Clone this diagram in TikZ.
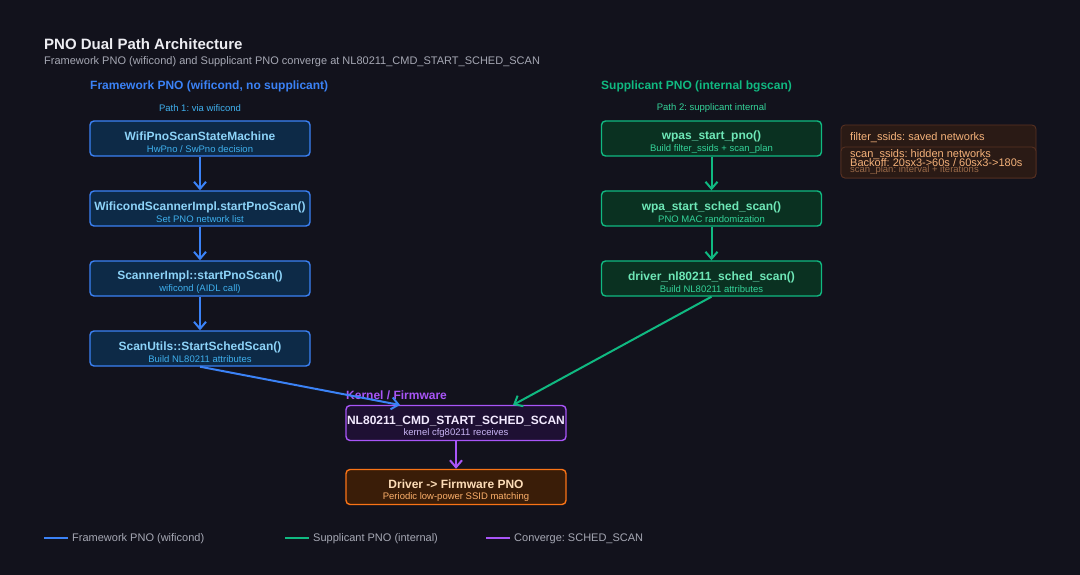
\documentclass[tikz,border=0pt]{standalone}
\usepackage{fontspec}
\setmainfont{Liberation Sans}
\usetikzlibrary{arrows.meta,positioning}
\definecolor{bg}{HTML}{12121C}
\definecolor{bluel}{HTML}{3B82F6}
\definecolor{bluefill}{HTML}{0D2A47}
\definecolor{bluetitle}{HTML}{8DD3F8}
\definecolor{bluesub}{HTML}{3FB0EE}
\definecolor{greenl}{HTML}{10B981}
\definecolor{greenfill}{HTML}{0A3121}
\definecolor{greentitle}{HTML}{6EE7B7}
\definecolor{greensub}{HTML}{34D399}
\definecolor{purl}{HTML}{A855F7}
\definecolor{purfill}{HTML}{1E1033}
\definecolor{purtitle}{HTML}{F3EAFF}
\definecolor{pursub}{HTML}{C9B5F5}
\definecolor{orl}{HTML}{F97316}
\definecolor{orfill}{HTML}{3A1D08}
\definecolor{ortitle}{HTML}{FDDDB8}
\definecolor{orsub}{HTML}{FDB06A}
\definecolor{notefill}{HTML}{2A1A15}
\definecolor{noteline}{HTML}{5A3222}
\definecolor{notetext}{HTML}{F5B27A}
\definecolor{notedim}{HTML}{9A6A48}
\definecolor{titlec}{HTML}{EDEDF2}
\definecolor{subc}{HTML}{A6A8B4}
\definecolor{legc}{HTML}{A6A8B4}
\tikzset{
  box/.style={draw, rounded corners=4pt, line width=1.4pt, minimum width=220pt, minimum height=35pt, inner sep=0pt, align=center},
  bbox/.style={box, draw=bluel, fill=bluefill},
  gbox/.style={box, draw=greenl, fill=greenfill},
  kbox/.style={box, draw=purl, fill=purfill},
  obox/.style={box, draw=orl, fill=orfill},
  conn/.style={line width=2pt, -{Straight Barb[length=7pt,width=12pt,line width=2pt]}},
  lbl/.style={inner sep=0pt},
  seclabel/.style={lbl, anchor=west, font=\fontsize{12}{14}\selectfont\bfseries},
  pathlabel/.style={lbl, font=\fontsize{9.5}{11}\selectfont},
  legtext/.style={lbl, anchor=west, text=legc, font=\fontsize{11}{13}\selectfont},
  notetxt/.style={lbl, anchor=west, text=notetext, font=\fontsize{11}{12}\selectfont},
}
\newcommand{\bx}[4]{\rule{0pt}{16pt}{\fontsize{12}{14}\selectfont\bfseries\color{#3}#1}\\[-0.5pt]{\fontsize{9.5}{11}\selectfont\color{#4}#2}}
\begin{document}
\begin{tikzpicture}[x=1pt,y=-1pt]
\frenchspacing
\fill[bg] (0,0) rectangle (1080,575);
\useasboundingbox (0,0) rectangle (1080,575);

\node[lbl, anchor=west, text=titlec, font=\fontsize{15}{17}\selectfont\bfseries] (title) at (44,44) {PNO Dual Path Architecture};
\node[lbl, anchor=west, text=subc, font=\fontsize{11}{13}\selectfont] (subtitle) at (44,62) {Framework PNO (wificond) and Supplicant PNO converge at NL80211\_CMD\_START\_SCHED\_SCAN};

\node[seclabel, text=bluel] (secl) at (90,86.5) {Framework PNO (wificond, no supplicant)};
\node[seclabel, text=greenl] (secr) at (601,86.5) {Supplicant PNO (internal bgscan)};
\node[pathlabel, text=bluesub] (p1) at (200,108.5) {Path 1: via wificond};
\node[pathlabel, text=greensub] (p2) at (711.5,108.5) {Path 2: supplicant internal};

% left column
\node[bbox] (l1) at (200,138.5) {\bx{WifiPnoScanStateMachine}{HwPno / SwPno decision}{bluetitle}{bluesub}};
\node[bbox] (l2) at (200,208.5) {\bx{WificondScannerImpl.startPnoScan()}{Set PNO network list}{bluetitle}{bluesub}};
\node[bbox] (l3) at (200,278.5) {\bx{ScannerImpl::startPnoScan()}{wificond (AIDL call)}{bluetitle}{bluesub}};
\node[bbox] (l4) at (200,348.5) {\bx{ScanUtils::StartSchedScan()}{Build NL80211 attributes}{bluetitle}{bluesub}};

% right column
\node[gbox] (r1) at (711.5,138.5) {\bx{wpas\_start\_pno()}{Build filter\_ssids + scan\_plan}{greentitle}{greensub}};
\node[gbox] (r2) at (711.5,208.5) {\bx{wpa\_start\_sched\_scan()}{PNO MAC randomization}{greentitle}{greensub}};
\node[gbox] (r3) at (711.5,278.5) {\bx{driver\_nl80211\_sched\_scan()}{Build NL80211 attributes}{greentitle}{greensub}};

% notes
\node[draw=noteline, fill=notefill, rounded corners=4pt, line width=0.8pt, minimum width=195pt, minimum height=53pt, inner sep=0pt] (n1) at (938.5,151.5) {};
\node[draw=noteline, fill=notefill, rounded corners=4pt, line width=0.8pt, minimum width=195pt, minimum height=31pt, inner sep=0pt] (n2) at (938.5,162.5) {};
\node[notetxt] (nt1) at (850,138) {filter\_ssids: saved networks};
\node[notetxt] (nt2) at (850,155) {scan\_ssids: hidden networks};
\node[notetxt, text=notedim, font=\fontsize{9.5}{11}\selectfont] (nt4) at (850,170.5) {scan\_plan: interval + iterations};
\node[notetxt] (nt3) at (850,163) {Backoff: 20sx3->60s / 60sx3->180s};

% kernel
\node[kbox] (k) at (456,423) {\bx{NL80211\_CMD\_START\_SCHED\_SCAN}{kernel cfg80211 receives}{purtitle}{pursub}};
\node[obox] (d) at (456,487) {\bx{Driver -> Firmware PNO}{Periodic low-power SSID matching}{ortitle}{orsub}};
\coordinate (kin1) at (400,405);
\coordinate (kin2) at (513,405);

\node[lbl, anchor=west, text=purl, font=\fontsize{12}{14}\selectfont\bfseries] (klab) at (346,395.5) {Kernel / Firmware};

% connectors
\draw[conn, bluel] (l1) -- (l2);
\draw[conn, bluel] (l2) -- (l3);
\draw[conn, bluel] (l3) -- (l4);
\draw[conn, greenl] (r1) -- (r2);
\draw[conn, greenl] (r2) -- (r3);
\draw[conn, bluel] (l4.south) -- (kin1);
\draw[conn, greenl] (r3.south) -- (kin2);
\draw[conn, purl] (k) -- (d);

% legend
\coordinate (lg1a) at (44,538); \coordinate (lg1b) at (68,538);
\coordinate (lg2a) at (285,538); \coordinate (lg2b) at (309,538);
\coordinate (lg3a) at (486,538); \coordinate (lg3b) at (510,538);
\draw[bluel, line width=2pt] (lg1a) -- (lg1b);
\draw[greenl, line width=2pt] (lg2a) -- (lg2b);
\draw[purl, line width=2pt] (lg3a) -- (lg3b);
\node[legtext] (lt1) at (72,538.5) {Framework PNO (wificond)};
\node[legtext] (lt2) at (313,538.5) {Supplicant PNO (internal)};
\node[legtext] (lt3) at (514,538.5) {Converge: SCHED\_SCAN};
\end{tikzpicture}
\end{document}
